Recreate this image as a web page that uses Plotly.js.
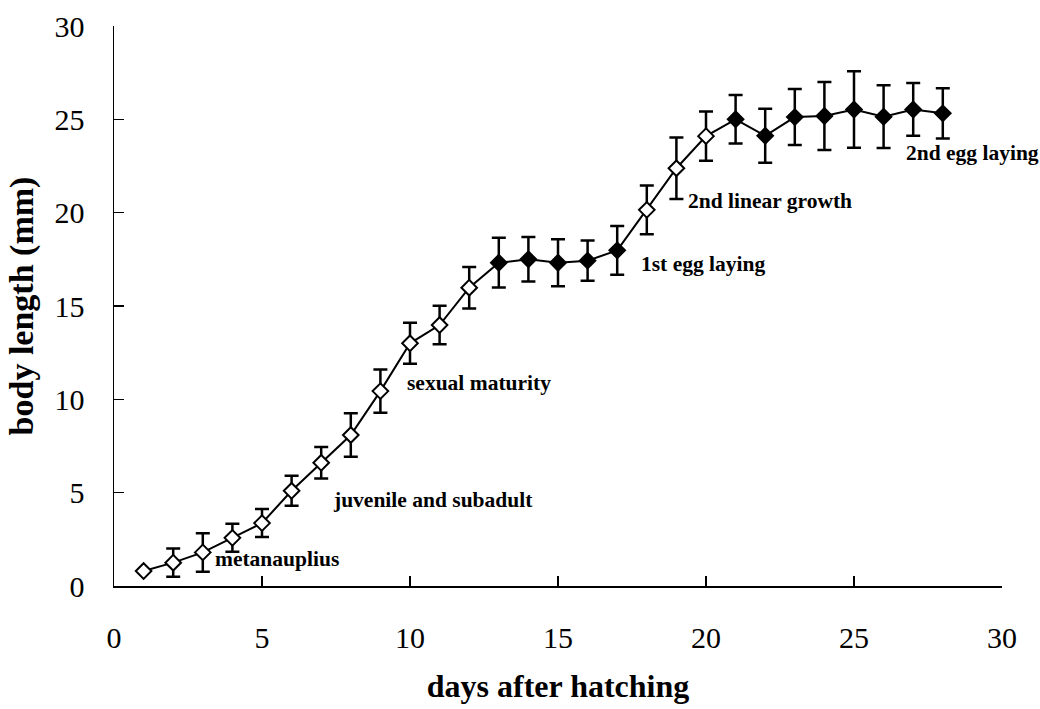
<!DOCTYPE html>
<html>
<head>
<meta charset="utf-8">
<script src="https://cdn.plot.ly/plotly-3.0.1.min.js"></script>
<style>html,body{margin:0;padding:0;background:#fff;}#chart{width:1040px;height:709px;}</style>
</head>
<body>
<div id="chart"></div>
<script>
var days = [1,2,3,4,5,6,7,8,9,10,11,12,13,14,15,16,17,18,19,20,21,22,23,24,25,26,27,28];
var bodyLength = [0.8,1.25,1.8,2.58,3.37,5.1,6.6,8.09,10.44,13.0,13.98,15.98,17.32,17.5,17.32,17.43,17.98,20.15,22.38,24.1,25.0,24.12,25.12,25.18,25.53,25.14,25.53,25.32];
var sdError = [0,0.76,1.03,0.75,0.75,0.8,0.84,1.16,1.16,1.1,1.03,1.11,1.33,1.19,1.26,1.08,1.3,1.3,1.65,1.32,1.3,1.45,1.5,1.82,2.05,1.68,1.41,1.35];
var filledStage = [0,0,0,0,0,0,0,0,0,0,0,0,1,1,1,1,1,0,0,0,1,1,1,1,1,1,1,1];
var stageLabels = ["metanauplius","juvenile and subadult","sexual maturity","1st egg laying","2nd linear growth","2nd egg laying"];
var stageLabelX = [3.35,7.34,9.84,17.75,19.31,26.68];
var stageLabelY = [1.45,4.61,10.89,17.25,20.64,23.19];
var xTicks = [0,5,10,15,20,25,30];
var yTicks = [0,5,10,15,20,25,30];

var serif = "'Liberation Serif','Times New Roman',serif";

var trace = {
  x: days,
  y: bodyLength,
  type: 'scatter',
  mode: 'lines+markers',
  line: {color: '#000', width: 2},
  marker: {
    symbol: 'diamond',
    size: 12,
    color: filledStage.map(function(f){return f ? '#000' : '#fff';}),
    line: {color: '#000', width: 2}
  },
  error_y: {type: 'data', array: sdError, visible: true, color: '#000', thickness: 2.5, width: 7},
  cliponaxis: false,
  hoverinfo: 'x+y'
};

var annotations = stageLabels.map(function(t, i){
  return {x: stageLabelX[i], y: stageLabelY[i], xref: 'x', yref: 'y', text: t, showarrow: false,
    xanchor: 'left', yanchor: 'middle', font: {family: serif, size: 21.5, color: '#000', weight: 'bold'}};
});

var layout = {
  width: 1040, height: 709,
  margin: {l: 114, r: 38, t: 26, b: 123, pad: 0},
  paper_bgcolor: '#fff', plot_bgcolor: '#fff',
  showlegend: false,
  font: {family: serif, color: '#000'},
  xaxis: {
    range: [0, 30], tickvals: xTicks, ticktext: xTicks.map(String),
    showgrid: false, zeroline: false, showline: true, linecolor: '#000', linewidth: 1.5,
    ticks: 'inside', ticklen: 10, tickwidth: 1.5, tickcolor: '#000',
    ticklabelstandoff: 24,
    tickfont: {family: serif, size: 30, color: '#000'},
    title: {text: '<b>days after hatching</b>', font: {family: serif, size: 32, color: '#000'}, standoff: 22},
    mirror: false
  },
  yaxis: {
    range: [0, 30], tickvals: yTicks, ticktext: yTicks.map(String),
    showgrid: false, zeroline: false, showline: true, linecolor: '#000', linewidth: 1.5,
    ticks: 'inside', ticklen: 10, tickwidth: 1.5, tickcolor: '#000',
    ticklabelstandoff: 22,
    tickfont: {family: serif, size: 30, color: '#000'},
    title: {text: '<b>body length (mm)</b>', font: {family: serif, size: 34, color: '#000'}, standoff: 10}
  },
  annotations: annotations
};

Plotly.newPlot('chart', [trace], layout, {displayModeBar: false, staticPlot: true});
</script>
</body>
</html>
